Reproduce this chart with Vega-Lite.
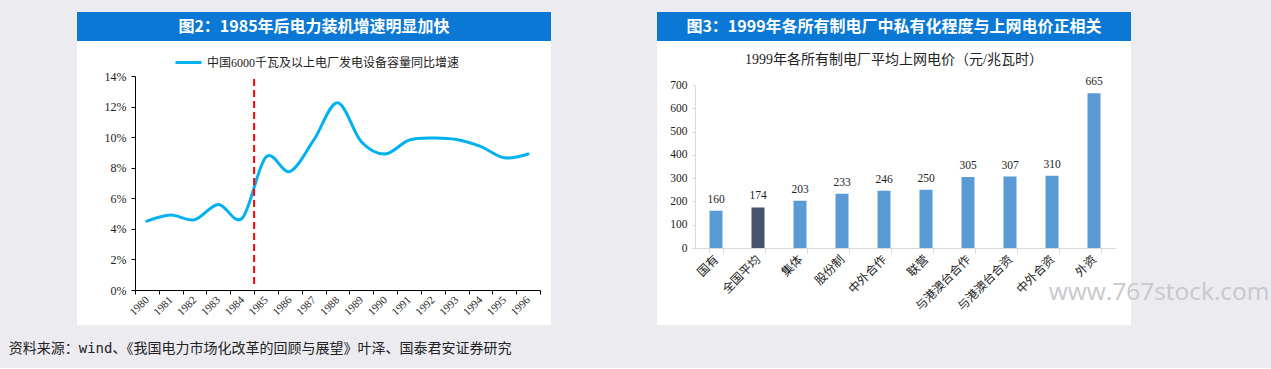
{
  "$schema": "https://vega.github.io/schema/vega-lite/v6.json",
  "background": "#ebebf0",
  "padding": {"left": 8, "top": 12, "right": 2, "bottom": 12},
  "spacing": 101,
  "title": {
    "text": "资料来源：wind、《我国电力市场化改革的回顾与展望》叶泽、国泰君安证券研究",
    "orient": "bottom",
    "anchor": "start",
    "dx": -64,
    "offset": 17,
    "font": "DejaVu Sans Mono, Noto Sans CJK SC",
    "fontSize": 14,
    "fontWeight": "normal",
    "color": "#222222",
    "baseline": "top"
  },
  "config": {"view": {"stroke": null}, "axis": {"grid": false}},
  "hconcat": [
    {
      "spacing": 0,
      "vconcat": [
        {
          "width": 474,
          "height": 29,
          "view": {"fill": "#0a78d4", "stroke": null},
          "data": {"values": [{"t": "图2：1985年后电力装机增速明显加快"}]},
          "mark": {"type": "text", "color": "#ffffff", "font": "Noto Sans CJK SC", "fontWeight": "bold", "fontSize": 16, "align": "center", "baseline": "middle"},
          "encoding": {"text": {"field": "t", "type": "nominal"}}
        },
        {
          "width": 474,
          "height": 284,
          "view": {"fill": "#ffffff", "stroke": null},
          "layer": [
            {
              "data": {"values": [
                {"year": "1980", "v": 0.045},
                {"year": "1981", "v": 0.049},
                {"year": "1982", "v": 0.046},
                {"year": "1983", "v": 0.056},
                {"year": "1984", "v": 0.047},
                {"year": "1985", "v": 0.087},
                {"year": "1986", "v": 0.0775},
                {"year": "1987", "v": 0.098},
                {"year": "1988", "v": 0.1225},
                {"year": "1989", "v": 0.097},
                {"year": "1990", "v": 0.089},
                {"year": "1991", "v": 0.098},
                {"year": "1992", "v": 0.0995},
                {"year": "1993", "v": 0.0985},
                {"year": "1994", "v": 0.094},
                {"year": "1995", "v": 0.0865},
                {"year": "1996", "v": 0.089}
              ]},
              "mark": {"type": "line", "interpolate": "cardinal", "strokeWidth": 3, "strokeCap": "round"},
              "encoding": {
                "x": {
                  "field": "year", "type": "ordinal", "bandPosition": 0.5,
                  "scale": {"type": "band", "range": [58, 463], "paddingInner": 0, "paddingOuter": 0},
                  "axis": {
                    "orient": "bottom", "offset": -35, "title": null,
                    "labelAngle": -45, "labelAlign": "right", "labelBaseline": "middle",
                    "labelFont": "Liberation Serif", "labelFontSize": 11, "labelColor": "#222222",
                    "tickBand": "extent", "tickSize": 4, "tickColor": "#000000", "domainColor": "#000000",
                    "labelPadding": 4
                  }
                },
                "y": {
                  "field": "v", "type": "quantitative",
                  "scale": {"domain": [0, 0.14], "range": [249, 35], "nice": false},
                  "axis": {
                    "orient": "left", "offset": -58, "title": null,
                    "values": [0, 0.02, 0.04, 0.06, 0.08, 0.1, 0.12, 0.14], "format": ".0%",
                    "labelFont": "Liberation Serif", "labelFontSize": 12, "labelColor": "#222222",
                    "tickSize": 4, "tickColor": "#000000", "domainColor": "#000000", "labelPadding": 5
                  }
                },
                "color": {
                  "datum": "中国6000千瓦及以上电厂发电设备容量同比增速", "type": "nominal",
                  "scale": {"range": ["#00b0f0"]},
                  "legend": {
                    "title": null, "orient": "none", "legendX": 97, "legendY": 36, "padding": 0,
                    "symbolType": "stroke", "symbolSize": 676, "symbolStrokeWidth": 3,
                    "labelFont": "Liberation Serif, Noto Sans CJK SC", "labelFontSize": 12, "labelColor": "#222222",
                    "labelOffset": 4, "labelLimit": 400
                  }
                }
              }
            },
            {
              "data": {"values": [{"year": "1985", "top": 0.138, "bottom": 0.002}]},
              "mark": {"type": "rule", "color": "#ff0000", "strokeWidth": 2, "strokeDash": [7, 4]},
              "encoding": {
                "x": {"field": "year", "type": "ordinal", "bandPosition": 0},
                "y": {"field": "top", "type": "quantitative"},
                "y2": {"field": "bottom"}
              }
            }
          ]
        }
      ]
    },
    {
      "spacing": 0,
      "vconcat": [
        {
          "width": 474,
          "height": 29,
          "view": {"fill": "#0a78d4", "stroke": null},
          "data": {"values": [{"t": "图3：1999年各所有制电厂中私有化程度与上网电价正相关"}]},
          "mark": {"type": "text", "color": "#ffffff", "font": "Noto Sans CJK SC", "fontWeight": "bold", "fontSize": 16, "align": "center", "baseline": "middle"},
          "encoding": {"text": {"field": "t", "type": "nominal"}}
        },
        {
          "width": 474,
          "height": 284,
          "view": {"fill": "#ffffff", "stroke": null},
          "title": {
            "text": "1999年各所有制电厂平均上网电价（元/兆瓦时）",
            "orient": "top", "anchor": "middle", "offset": -33,
            "font": "Liberation Serif, Noto Sans CJK SC", "fontSize": 14, "fontWeight": "normal",
            "color": "#222222", "baseline": "middle"
          },
          "data": {"values": [
            {"cat": "国有", "price": 160},
            {"cat": "全国平均", "price": 174},
            {"cat": "集体", "price": 203},
            {"cat": "股份制", "price": 233},
            {"cat": "中外合作", "price": 246},
            {"cat": "联营", "price": 250},
            {"cat": "与港澳台合作", "price": 305},
            {"cat": "与港澳台合资", "price": 307},
            {"cat": "中外合资", "price": 310},
            {"cat": "外资", "price": 665}
          ]},
          "encoding": {
            "x": {
              "field": "cat", "type": "nominal", "sort": null,
              "scale": {"type": "band", "range": [38, 458], "paddingInner": 0.69, "paddingOuter": 0.345},
              "axis": {
                "orient": "bottom", "offset": -77,
                "title": "www.767stock.com", "titleFont": "Open Sans", "titleFontSize": 24.5, "titleFontWeight": "normal",
                "titleColor": "#c8c8cc", "titleX": 612, "titleY": 44, "titleAlign": "right", "titleBaseline": "middle", "titleAngle": 0,
                "labelAngle": -45, "labelAlign": "right", "labelBaseline": "middle",
                "labelFont": "Noto Sans CJK SC", "labelFontSize": 12, "labelColor": "#222222",
                "tickBand": "extent", "tickSize": 5, "tickColor": "#d9d9d9", "domainColor": "#d9d9d9",
                "labelPadding": 4
              }
            },
            "y": {
              "field": "price", "type": "quantitative",
              "scale": {"domain": [0, 700], "range": [207, 44], "nice": false},
              "axis": {
                "orient": "left", "offset": -38, "title": null,
                "values": [0, 100, 200, 300, 400, 500, 600, 700],
                "labelFont": "Liberation Serif", "labelFontSize": 11.5, "labelColor": "#222222",
                "tickSize": 3, "tickColor": "#d9d9d9", "domainColor": "#d9d9d9", "labelPadding": 5
              }
            }
          },
          "layer": [
            {
              "mark": {"type": "bar"},
              "encoding": {
                "color": {"condition": {"test": "datum.cat === '全国平均'", "value": "#44546a"}, "value": "#5b9bd5"}
              }
            },
            {
              "mark": {"type": "text", "baseline": "bottom", "dy": -6, "font": "Liberation Serif", "fontSize": 11.5, "color": "#222222"},
              "encoding": {"text": {"field": "price", "type": "quantitative"}}
            }
          ]
        }
      ]
    }
  ]
}
